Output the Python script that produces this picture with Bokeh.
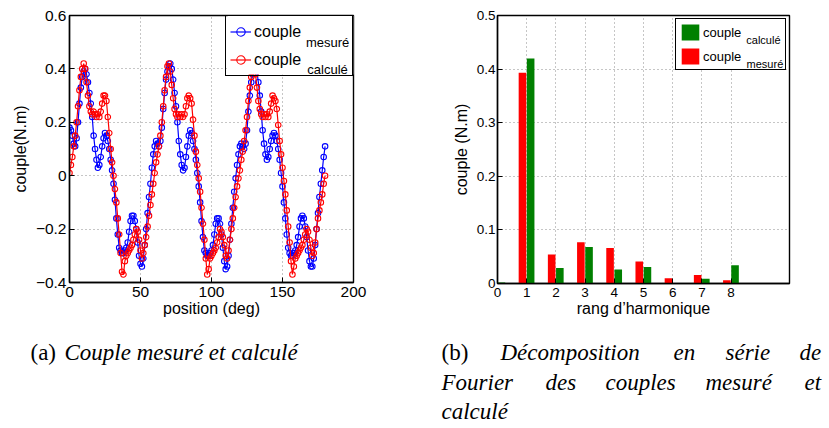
from bokeh.plotting import figure
from bokeh.models import (Range1d, FixedTicker, Legend, LegendItem, Label,
                          ColumnDataSource, BoxAnnotation)
from bokeh.layouts import row, column
from bokeh.transform import dodge
from bokeh.embed import file_html
from bokeh.resources import INLINE

# ---------------- data: (a) couple vs position ----------------
position_deg = list(range(0, 181))

couple_mesure = [
    0.18, 0.17, 0.15, 0.12, 0.11, 0.14, 0.20, 0.27, 0.33, 0.37,
    0.39, 0.40, 0.38, 0.35, 0.31, 0.27, 0.22, 0.15, 0.10, 0.06,
    0.03, 0.04, 0.07, 0.11, 0.14, 0.16, 0.15, 0.13, 0.10, 0.06,
    0.02, -0.03, -0.09, -0.16, -0.22, -0.27, -0.28, -0.29, -0.29, -0.28,
    -0.27, -0.25, -0.21, -0.17, -0.15, -0.15, -0.17, -0.20, -0.25, -0.30,
    -0.33, -0.34, -0.31, -0.26, -0.20, -0.14, -0.08, -0.03, 0.03, 0.08,
    0.11, 0.13, 0.12, 0.11, 0.13, 0.18, 0.25, 0.31, 0.36, 0.39,
    0.41, 0.42, 0.40, 0.36, 0.31, 0.26, 0.20, 0.13, 0.08, 0.04,
    0.02, 0.03, 0.07, 0.11, 0.15, 0.17, 0.16, 0.13, 0.10, 0.06,
    0.01, -0.04, -0.10, -0.17, -0.23, -0.28, -0.29, -0.30, -0.30, -0.29,
    -0.28, -0.26, -0.22, -0.18, -0.16, -0.16, -0.18, -0.22, -0.27, -0.32,
    -0.35, -0.34, -0.30, -0.24, -0.18, -0.12, -0.06, -0.01, 0.04, 0.08,
    0.11, 0.12, 0.11, 0.10, 0.12, 0.17, 0.24, 0.30, 0.35, 0.38,
    0.40, 0.41, 0.39, 0.35, 0.30, 0.24, 0.17, 0.12, 0.08, 0.06,
    0.07, 0.10, 0.13, 0.15, 0.16, 0.15, 0.13, 0.10, 0.06, 0.01,
    -0.04, -0.10, -0.16, -0.22, -0.27, -0.29, -0.30, -0.30, -0.29, -0.28,
    -0.26, -0.23, -0.19, -0.16, -0.15, -0.16, -0.19, -0.23, -0.28, -0.32,
    -0.34, -0.34, -0.31, -0.26, -0.20, -0.14, -0.08, -0.03, 0.02, 0.07,
    0.11,
]

couple_calcule = [
    0.01, 0.04, 0.07, 0.11, 0.15, 0.20, 0.26, 0.32, 0.37, 0.40,
    0.42, 0.40, 0.35, 0.30, 0.26, 0.24, 0.23, 0.24, 0.23, 0.22,
    0.23, 0.22, 0.24, 0.27, 0.30, 0.30, 0.28, 0.22, 0.16, 0.10,
    0.05, 0.00, -0.05, -0.10, -0.16, -0.22, -0.29, -0.36, -0.37, -0.32,
    -0.30, -0.29, -0.28, -0.27, -0.26, -0.24, -0.22, -0.20, -0.21, -0.24,
    -0.28, -0.31, -0.29, -0.26, -0.23, -0.19, -0.15, -0.11, -0.07, -0.03,
    0.01, 0.05, 0.08, 0.11, 0.15, 0.20, 0.26, 0.32, 0.37, 0.41,
    0.42, 0.39, 0.34, 0.29, 0.25, 0.23, 0.22, 0.23, 0.22, 0.23,
    0.22, 0.23, 0.26, 0.29, 0.30, 0.29, 0.27, 0.21, 0.15, 0.09,
    0.04, -0.01, -0.06, -0.12, -0.18, -0.24, -0.31, -0.37, -0.35, -0.31,
    -0.30, -0.29, -0.28, -0.27, -0.25, -0.23, -0.20, -0.21, -0.23, -0.26,
    -0.30, -0.31, -0.28, -0.24, -0.20, -0.16, -0.12, -0.08, -0.04, -0.01,
    0.02, 0.06, 0.09, 0.13, 0.17, 0.22, 0.28, 0.33, 0.37, 0.39,
    0.40, 0.38, 0.33, 0.28, 0.25, 0.23, 0.22, 0.23, 0.22, 0.23,
    0.22, 0.24, 0.27, 0.30, 0.29, 0.28, 0.25, 0.19, 0.13, 0.08,
    0.03, -0.02, -0.07, -0.13, -0.19, -0.25, -0.32, -0.37, -0.34, -0.31,
    -0.30, -0.29, -0.28, -0.27, -0.26, -0.24, -0.22, -0.20, -0.21, -0.24,
    -0.27, -0.30, -0.29, -0.25, -0.20, -0.16, -0.13, -0.10, -0.07, -0.03,
    0.00,
]

a_xticks = [0, 50, 100, 150, 200]
a_yticks = [-0.4, -0.2, 0, 0.2, 0.4, 0.6]
a_ytick_labels = ["\u22120.4", "\u22120.2", "0", "0.2", "0.4", "0.6"]

# ---------------- data: (b) Fourier decomposition ----------------
harmonic_rank = [0, 1, 2, 3, 4, 5, 6, 7, 8]
fourier_mesure = [0.0, 0.393, 0.054, 0.077, 0.066, 0.041, 0.010, 0.016, 0.006]
fourier_calcule = [0.002, 0.420, 0.029, 0.068, 0.026, 0.031, 0.001, 0.009, 0.034]

b_xticks = [0, 1, 2, 3, 4, 5, 6, 7, 8]
b_yticks = [0, 0.1, 0.2, 0.3, 0.4, 0.5]
b_ytick_labels = ["0", "0.1", "0.2", "0.3", "0.4", "0.5"]

# ---------------- captions ----------------
caption_a = [("(a)", "normal"), ("Couple mesuré et calculé", "italic")]
caption_b_lines = [
    ["(b)", "Décomposition", "en", "série", "de"],
    ["Fourier", "des", "couples", "mesuré", "et"],
    ["calculé"],
]

SANS = "Liberation Sans"
SERIF = "Liberation Serif"


def style(p, tick_px, label_px, xstand, ystand, xlabstand, ylabstand):
    p.outline_line_color = "black"
    p.outline_line_width = 1.4
    p.outline_line_alpha = 1.0
    p.background_fill_color = "white"
    p.border_fill_color = "white"
    for ax in (p.xaxis[0], p.yaxis[0]):
        ax.axis_line_color = "black"
        ax.axis_line_width = 1.4
        ax.major_tick_in = 5
        ax.major_tick_out = 0
        ax.minor_tick_in = 0
        ax.minor_tick_out = 0
        ax.major_tick_line_color = "black"
        ax.major_label_text_font = SANS
        ax.major_label_text_font_size = tick_px
        ax.major_label_text_color = "black"
        ax.axis_label_text_font = SANS
        ax.axis_label_text_font_style = "normal"
        ax.axis_label_text_font_size = label_px
        ax.axis_label_text_color = "black"
    p.xaxis[0].major_label_standoff = xstand
    p.yaxis[0].major_label_standoff = ystand
    p.xaxis[0].axis_label_standoff = xlabstand
    p.yaxis[0].axis_label_standoff = ylabstand
    for g in p.grid:
        g.grid_line_color = "#8c8c8c"
        g.grid_line_dash = "1 3"
        g.grid_line_width = 1


def legend_backdrop(p, left, right, top, bottom):
    # opaque white panel behind the (transparent) legend
    p.add_layout(BoxAnnotation(left=left, right=right, top=top, bottom=bottom,
                               fill_color="white", fill_alpha=1.0,
                               line_color=None))


def sub_label(p, x, y, text, size):
    # subscript of a legend entry
    p.add_layout(Label(x=x, y=y, text=text, text_font=SANS,
                       text_font_size=size, text_baseline="alphabetic",
                       text_color="black"))


# ================= figure (a) =================
pa = figure(frame_width=284, frame_height=267,
            min_border_left=69, min_border_right=87,
            min_border_top=15, min_border_bottom=46,
            x_range=Range1d(0, 200), y_range=Range1d(-0.4, 0.6),
            output_backend="svg", toolbar_location=None,
            x_axis_label="position (deg)", y_axis_label="couple(N.m)")
pa.xaxis.ticker = FixedTicker(ticks=a_xticks)
pa.yaxis.ticker = FixedTicker(ticks=a_yticks)
pa.yaxis.major_label_overrides = {v: s for v, s in zip(a_yticks, a_ytick_labels)}
style(pa, "15.5px", "16px", 4, 3, 0, 4)

src_a = ColumnDataSource(dict(pos=position_deg, mes=couple_mesure, cal=couple_calcule))
lb = pa.line("pos", "mes", source=src_a, line_color="#0000ff", line_width=1.2)
sb = pa.scatter("pos", "mes", source=src_a, marker="circle", size=5.5,
                line_color="#0000ff", fill_color=None, line_width=1.1)
lr = pa.line("pos", "cal", source=src_a, line_color="#ff0000", line_width=1.2)
sr = pa.scatter("pos", "cal", source=src_a, marker="circle", size=5.5,
                line_color="#ff0000", fill_color=None, line_width=1.1)

legend_backdrop(pa, 111.3, 200, 0.6, 0.379)
sub_label(pa, 166.5, 0.499, "mesuré", "13px")
sub_label(pa, 167.5, 0.396, "calculé", "13px")
leg_a = Legend(items=[LegendItem(label="couple", renderers=[lb, sb]),
                      LegendItem(label="couple", renderers=[lr, sr])],
               location="top_right", margin=0, padding=4, spacing=5,
               glyph_width=21, glyph_height=23, label_standoff=3,
               label_width=94, label_height=23,
               border_line_color="black", border_line_width=1.5,
               border_line_alpha=1.0,
               background_fill_alpha=0.0,
               label_text_font=SANS, label_text_font_size="16px",
               label_text_color="black")
pa.add_layout(leg_a)

# ================= figure (b) =================
pb = figure(frame_width=292, frame_height=268,
            min_border_left=57, min_border_right=40,
            min_border_top=15, min_border_bottom=45,
            x_range=Range1d(0, 10), y_range=Range1d(0, 0.5),
            output_backend="svg", toolbar_location=None,
            x_axis_label="rang d\u2019harmonique", y_axis_label="couple (N.m)")
pb.xaxis.ticker = FixedTicker(ticks=b_xticks)
pb.yaxis.ticker = FixedTicker(ticks=b_yticks)
pb.yaxis.major_label_overrides = {v: s for v, s in zip(b_yticks, b_ytick_labels)}
style(pb, "13.5px", "16px", 4, 2, 0, 4)

src_b = ColumnDataSource(dict(rank=harmonic_rank, mes=fourier_mesure, cal=fourier_calcule))
r_mes = pb.vbar(x=dodge("rank", -0.145, range=pb.x_range), top="mes", width=0.26,
                source=src_b, fill_color="#ff0000", line_color=None)
r_cal = pb.vbar(x=dodge("rank", 0.135, range=pb.x_range), top="cal", width=0.26,
                source=src_b, fill_color="#008000", line_color=None)

legend_backdrop(pb, 6.164, 9.897, 0.4944, 0.4011)
sub_label(pb, 8.52, 0.4535, "calculé", "11px")
sub_label(pb, 8.53, 0.41, "mesuré", "11px")
leg_b = Legend(items=[LegendItem(label="couple", renderers=[r_cal]),
                      LegendItem(label="couple", renderers=[r_mes])],
               location="top_right", margin=3, padding=3, spacing=4,
               glyph_width=22, glyph_height=20, label_standoff=2,
               label_width=79, label_height=20,
               border_line_color="black", border_line_width=1,
               border_line_alpha=1.0,
               background_fill_alpha=0.0,
               label_text_font=SANS, label_text_font_size="13px",
               label_text_color="black")
pb.add_layout(leg_b)

# ================= caption strip (page-pixel coordinates) =================
CAP_TOP, CAP_BOTTOM = 328, 428
pc = figure(frame_width=829, frame_height=CAP_BOTTOM - CAP_TOP,
            min_border_left=0, min_border_right=0,
            min_border_top=0, min_border_bottom=0,
            x_range=Range1d(0, 829), y_range=Range1d(CAP_BOTTOM, CAP_TOP),
            x_axis_location=None, y_axis_location=None,
            output_backend="svg", toolbar_location=None)
pc.outline_line_color = None
pc.grid.visible = False
pc.background_fill_color = "white"
pc.border_fill_color = "white"


def cap(x, y, text, st):
    pc.add_layout(Label(x=x, y=y, text=text, text_font=SERIF,
                        text_font_style=st, text_font_size="23px",
                        text_baseline="alphabetic", text_color="black"))


cap(30, 352, caption_a[0][0], caption_a[0][1])
cap(64, 352, caption_a[1][0], caption_a[1][1])

b_x = [[441, 500, 673, 725, 799], [441, 545, 605, 705, 804], [441]]
b_y = [352, 382, 411]
for words, xs, yy in zip(caption_b_lines, b_x, b_y):
    for w, xx in zip(words, xs):
        cap(xx, yy, w, "normal" if w == "(b)" else "italic")

layout = column(row(pa, pb), pc)
open("out.html", "w").write(file_html(layout, INLINE))
